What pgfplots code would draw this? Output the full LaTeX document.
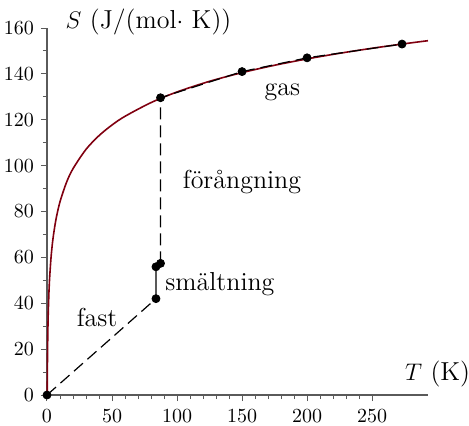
\documentclass[border=0pt]{standalone}
\usepackage{pgfplots}
\pgfplotsset{compat=1.18}
\definecolor{curvered}{RGB}{128,0,16}
\definecolor{axgray}{RGB}{90,90,90}
\newcommand{\lbl}{\fontsize{13}{15}\selectfont}
\begin{document}
\begin{tikzpicture}
\begin{axis}[
  scale only axis, width=190.5pt, height=183.5pt,
  xmin=0, xmax=293, ymin=0, ymax=160,
  axis lines=left, axis line style={-, axgray, line width=0.6pt},
  xtick={0,50,...,250}, ytick={0,20,...,160},
  minor x tick num=4, minor y tick num=1,
  tick align=outside,
  major tick length=3pt, minor tick length=2pt,
  tick style={axgray, line width=0.5pt},
  tick label style={font=\fontsize{10}{12}\selectfont},
  xticklabel style={yshift=-1pt},
  clip=false,
]
% entropy curve of the gas
\addplot[curvered, line width=0.8pt, smooth] coordinates {
  (0.175,0.2) (0.2,2.95) (0.3,11.37) (0.5,21.99) (0.75,30.42) (1,36.4)
  (1.5,44.83) (2,50.81) (3,59.24) (4,65.22) (5,69.85) (7,76.85)
  (10,84.26) (15,92.69) (20,98.67) (30,107.1) (40,113.08) (50,117.72)
  (60,121.51) (80,127.48) (100,132.12) (125,136.76) (150,140.55)
  (175,143.76) (200,146.53) (225,148.98) (250,151.17) (275,153.15) (293,154.47)
};
% fast
\addplot[black, dash pattern=on 6pt off 3pt, line width=0.6pt] coordinates {(0,0) (83.8,42)};
% smaltning
\addplot[black, line width=0.6pt] coordinates {(83.8,42) (83.8,55.9) (87.3,57.4)};
% forangning + gas
\addplot[black, dash pattern=on 6pt off 3pt, line width=0.6pt] coordinates {
  (87.3,57.4) (87.3,129.6) (150,141) (200,147) (273,153)};
\addplot[only marks, mark=*, mark size=2pt, black] coordinates {
  (0,0) (83.8,42) (83.8,55.9) (87.3,57.4) (87.3,129.6) (150,141) (200,147) (273,153)};

\node[anchor=base west, inner sep=0pt] at (axis cs:14,160) {\lbl $S$ (J/(mol$\cdot$ K))};
\node[anchor=base west, inner sep=0pt] at (axis cs:275,6.5) {\lbl $T$ (K)};
\node at (axis cs:181,132) {\lbl gas};
\node at (axis cs:150,92.8) {\lbl förångning};
\node at (axis cs:133,48.4) {\lbl smältning};
\node at (axis cs:38.5,33.6) {\lbl fast};
\coordinate (bl) at (axis cs:0,0);
\end{axis}
\pgfresetboundingbox
\path[use as bounding box] ([shift={(-23.5pt,-15pt)}]bl) rectangle ([shift={(211pt,197.5pt)}]bl);
\end{tikzpicture}
\end{document}
